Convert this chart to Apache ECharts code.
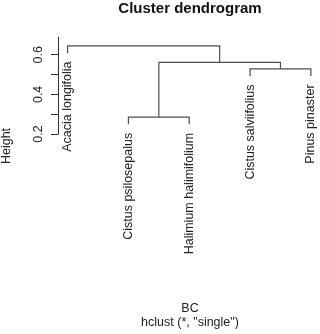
<!DOCTYPE html>
<html><head><meta charset="utf-8">
<script src="https://cdn.jsdelivr.net/npm/echarts@6/dist/echarts.min.js"></script>
<style>html,body{margin:0;padding:0;background:#fff}#c{width:320px;height:334px}</style>
</head><body><div id="c"></div>
<script>
// Leaves in dendrogram order
const leafLabels = ['Acacia longifolia','Cistus psilosepalus','Halimium halimifolium','Cistus salviifolius','Pinus pinaster'];
// hclust-style merges: negative = leaf (1-based), positive = earlier merge (1-based)
const mergeLeft  = [-2, -4, 1, -1];
const mergeRight = [-3, -5, 2, 3];
const mergeHeights = [0.285, 0.529, 0.561, 0.645];
const yTicks = [0.2, 0.3, 0.4, 0.5, 0.6];
const yTickLabels = [0.2, 0.4, 0.6];

const FONT = '"Liberation Sans", Arial, sans-serif';
const hang = 0.1 * (Math.max(...mergeHeights) - Math.min(...mergeHeights));

// node x positions
const mergeX = [];
function childX(c) { return c < 0 ? -c : mergeX[c - 1]; }
for (let i = 0; i < mergeHeights.length; i++) {
  mergeX.push((childX(mergeLeft[i]) + childX(mergeRight[i])) / 2);
}
// leaf bottom heights
const leafBottom = new Array(leafLabels.length);
for (let i = 0; i < mergeHeights.length; i++) {
  [mergeLeft[i], mergeRight[i]].forEach(c => { if (c < 0) leafBottom[-c - 1] = mergeHeights[i] - hang; });
}
function childBottom(c, h) { return c < 0 ? h - hang : mergeHeights[c - 1]; }

const lineColor = '#4d4d4d';

const chart = echarts.init(document.getElementById('c'), null, {renderer: 'canvas'});
chart.setOption({
  animation: false,
  backgroundColor: '#fff',
  grid: {left: 58.5, top: 37.3, width: 263.7, height: 96.7},
  xAxis: {type: 'value', min: 0.85, max: 5.15, show: false},
  yAxis: {
    type: 'value', min: 0.2, max: 0.688,
    axisLine: {show: true, lineStyle: {color: '#333', width: 1}},
    axisTick: {show: true, customValues: yTicks, length: 7.5, lineStyle: {color: '#333', width: 1}},
    axisLabel: {customValues: yTickLabels, rotate: 90, margin: 13, fontSize: 12.5, fontFamily: FONT, color: '#222',
      formatter: v => v.toFixed(1)},
    splitLine: {show: false}
  },
  graphic: [
    {type: 'text', x: 190, y: 8.7, style: {text: 'Cluster dendrogram', font: 'bold 15px ' + FONT, fill: '#111', align: 'center', verticalAlign: 'middle'}},
    {type: 'text', x: 7, y: 146, rotation: Math.PI / 2, style: {text: 'Height', font: '12.5px ' + FONT, fill: '#222', align: 'center', verticalAlign: 'middle'}},
    {type: 'text', x: 190, y: 309, style: {text: 'BC', font: '12.5px ' + FONT, fill: '#222', align: 'center', verticalAlign: 'middle'}},
    {type: 'text', x: 190, y: 323, style: {text: 'hclust (*, "single")', font: '12.5px ' + FONT, fill: '#222', align: 'center', verticalAlign: 'middle'}}
  ],
  series: [
    {
      type: 'custom',
      coordinateSystem: 'cartesian2d',
      data: mergeHeights.map((h, i) => [i, h]),
      renderItem: function (params, api) {
        const i = api.value(0);
        const h = mergeHeights[i];
        const l = mergeLeft[i], r = mergeRight[i];
        const pts = [
          api.coord([childX(l), childBottom(l, h)]),
          api.coord([childX(l), h]),
          api.coord([childX(r), h]),
          api.coord([childX(r), childBottom(r, h)])
        ];
        return {type: 'polyline', shape: {points: pts}, style: {stroke: lineColor, lineWidth: 1.2, fill: null}};
      }
    },
    {
      type: 'custom',
      coordinateSystem: 'cartesian2d',
      data: leafLabels.map((name, i) => [i + 1, leafBottom[i]]),
      renderItem: function (params, api) {
        const idx = params.dataIndex;
        const p = api.coord([api.value(0), api.value(1)]);
        return {type: 'text', x: p[0], y: p[1] + 8.5, rotation: Math.PI / 2,
          style: {text: leafLabels[idx], font: '12.5px ' + FONT, fill: '#222', align: 'right', verticalAlign: 'middle'}};
      }
    }
  ]
});
</script></body></html>
